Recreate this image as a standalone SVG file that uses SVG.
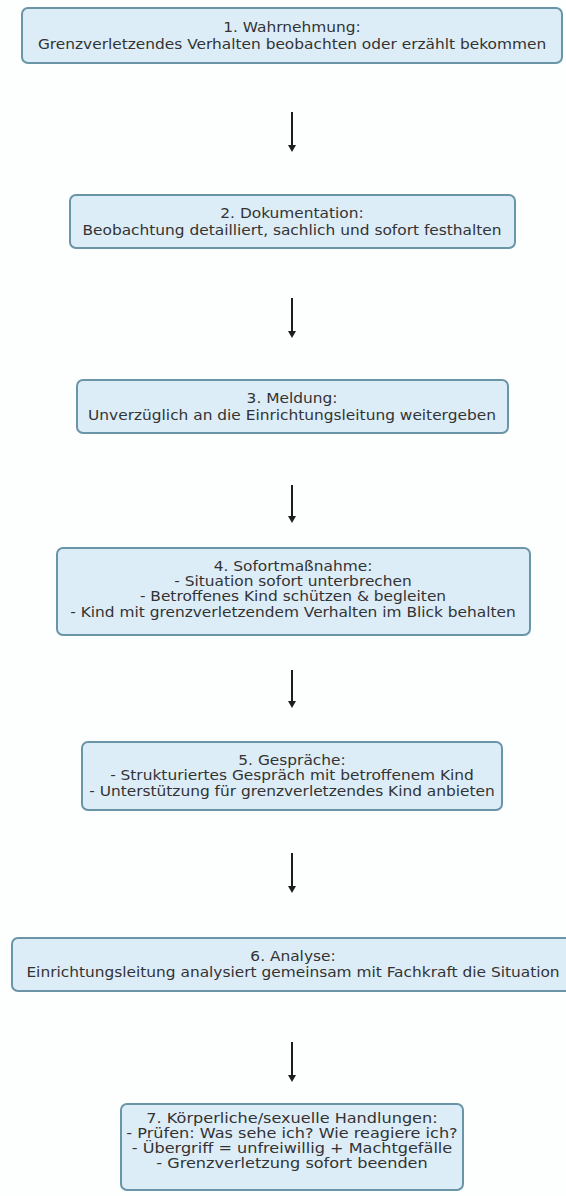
<svg xmlns="http://www.w3.org/2000/svg" width="566" height="1196" viewBox="0 0 566 1196">
  <defs>
    <style>
      .box { fill: #ddedf8; stroke: #6a95a6; stroke-width: 2; }
      .lbl { font-family: "DejaVu Sans", Verdana, sans-serif; font-size: 14px; fill: #333333; text-anchor: middle; }
      .edge { stroke: #1e1e1e; stroke-width: 2; fill: none; }
      .head { fill: #1e1e1e; }
    </style>
  </defs>
  <rect width="566" height="1196" fill="#fdfefe"/>

  <!-- labels are set 14px and widened so each line keeps the wide box proportions -->
  <g id="n1">
    <rect class="box" x="22" y="8" width="540" height="55" rx="6"/>
    <g class="lbl" transform="translate(292 0) scale(1.1 1)">
      <text x="0" y="32">1. Wahrnehmung:</text>
      <text x="0" y="49">Grenzverletzendes Verhalten beobachten oder erzählt bekommen</text>
    </g>
  </g>
  <g id="n2">
    <rect class="box" x="70" y="195" width="445" height="53" rx="6"/>
    <g class="lbl" transform="translate(292 0) scale(1.1 1)">
      <text x="0" y="218">2. Dokumentation:</text>
      <text x="0" y="235">Beobachtung detailliert, sachlich und sofort festhalten</text>
    </g>
  </g>
  <g id="n3">
    <rect class="box" x="77" y="380" width="431" height="53" rx="6"/>
    <g class="lbl" transform="translate(292 0) scale(1.1 1)">
      <text x="0" y="403">3. Meldung:</text>
      <text x="0" y="420">Unverzüglich an die Einrichtungsleitung weitergeben</text>
    </g>
  </g>
  <g id="n4">
    <rect class="box" x="57" y="548" width="473" height="87" rx="6"/>
    <g class="lbl" transform="translate(293 0) scale(1.1 1)">
      <text x="0" y="571">4. Sofortmaßnahme:</text>
      <text x="0" y="586">- Situation sofort unterbrechen</text>
      <text x="0" y="601">- Betroffenes Kind schützen &amp; begleiten</text>
      <text x="0" y="617">- Kind mit grenzverletzendem Verhalten im Blick behalten</text>
    </g>
  </g>
  <g id="n5">
    <rect class="box" x="82" y="742" width="420" height="68" rx="6"/>
    <g class="lbl" transform="translate(292 0) scale(1.1 1)">
      <text x="0" y="765">5. Gespräche:</text>
      <text x="0" y="780">- Strukturiertes Gespräch mit betroffenem Kind</text>
      <text x="0" y="796">- Unterstützung für grenzverletzendes Kind anbieten</text>
    </g>
  </g>
  <g id="n6">
    <rect class="box" x="12" y="938" width="570" height="53" rx="6"/>
    <g class="lbl" transform="translate(293 0) scale(1.1 1)">
      <text x="0" y="961">6. Analyse:</text>
      <text x="0" y="977">Einrichtungsleitung analysiert gemeinsam mit Fachkraft die Situation</text>
    </g>
  </g>
  <g id="n7">
    <rect class="box" x="121" y="1104" width="342" height="86" rx="6"/>
    <g class="lbl" transform="translate(292 0) scale(1.15 1)">
      <text x="0" y="1123">7. Körperliche/sexuelle Handlungen:</text>
      <text x="0" y="1138">- Prüfen: Was sehe ich? Wie reagiere ich?</text>
      <text x="0" y="1153">- Übergriff = unfreiwillig + Machtgefälle</text>
      <text x="0" y="1168">- Grenzverletzung sofort beenden</text>
    </g>
  </g>

  <!-- downward connectors: shaft plus small filled head -->
  <g id="edges">
    <path class="edge" d="M292,112 V146"/>
    <path class="head" d="M288,145 H296 L292,152 Z"/>
    <path class="edge" d="M292,298 V332"/>
    <path class="head" d="M288,331 H296 L292,338 Z"/>
    <path class="edge" d="M292,485 V517"/>
    <path class="head" d="M288,516 H296 L292,523 Z"/>
    <path class="edge" d="M292,670 V702"/>
    <path class="head" d="M288,701 H296 L292,708 Z"/>
    <path class="edge" d="M292,853 V887"/>
    <path class="head" d="M288,886 H296 L292,893 Z"/>
    <path class="edge" d="M292,1042 V1076"/>
    <path class="head" d="M288,1075 H296 L292,1082 Z"/>
  </g>
</svg>
